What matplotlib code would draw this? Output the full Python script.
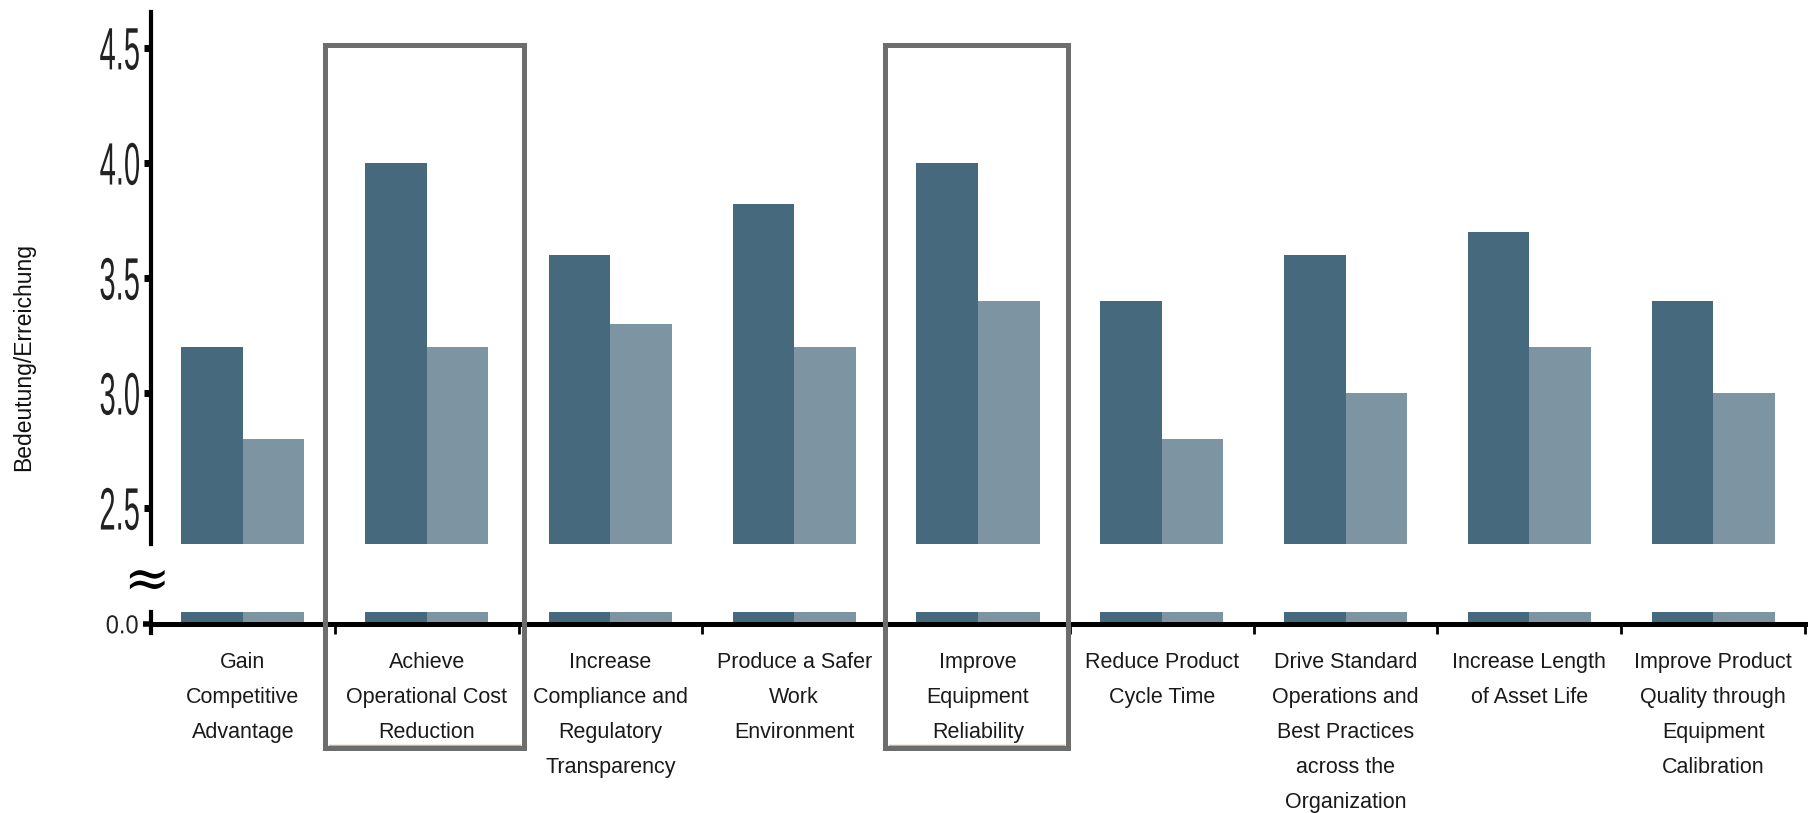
import matplotlib
matplotlib.use("Agg")
import matplotlib.pyplot as plt
import numpy as np
from matplotlib import patheffects
from matplotlib.transforms import Affine2D, blended_transform_factory
from matplotlib.patches import Rectangle
from matplotlib.lines import Line2D

# ---------------- data ----------------
categories = [
    "Gain\nCompetitive\nAdvantage",
    "Achieve\nOperational Cost\nReduction",
    "Increase\nCompliance and\nRegulatory\nTransparency",
    "Produce a Safer\nWork\nEnvironment",
    "Improve\nEquipment\nReliability",
    "Reduce Product\nCycle Time",
    "Drive Standard\nOperations and\nBest Practices\nacross the\nOrganization",
    "Increase Length\nof Asset Life",
    "Improve Product\nQuality through\nEquipment\nCalibration",
]
bedeutung = [3.2, 4.0, 3.6, 3.82, 4.0, 3.4, 3.6, 3.7, 3.4]
erreichung = [2.8, 3.2, 3.3, 3.2, 3.4, 2.8, 3.0, 3.2, 3.0]
upper_ticks = [2.5, 3.0, 3.5, 4.0, 4.5]
upper_ticklabels = ["2.5", "3.0", "3.5", "4.0", "4.5"]
lower_ticks = [0.0]
lower_ticklabels = ["0.0"]
highlighted = [1, 4]
ylabel = "Bedeutung/Erreichung"

DARK = "#46697d"
LIGHT = "#7d94a2"
W, H = 1814, 813


class VStretch(patheffects.AbstractPathEffect):
    """Stretch text vertically around its own center (condensed look)."""
    def __init__(self, sy=1.0):
        super().__init__()
        self.sy = sy

    def draw_path(self, renderer, gc, tpath, affine, rgbFace=None):
        pts = affine.transform(tpath.vertices)
        if len(pts):
            cy = 0.5 * (pts[:, 1].min() + pts[:, 1].max())
        else:
            cy = 0
        aff = affine + Affine2D().translate(0, -cy).scale(1, self.sy).translate(0, cy)
        renderer.draw_path(gc, tpath, aff, rgbFace)


fig = plt.figure(figsize=(W / 100, H / 100), dpi=100)

def px_axes(left, top, right, bottom):
    return fig.add_axes([left / W, 1 - bottom / H, (right - left) / W, (bottom - top) / H])

x_left, x_right = 151, 1805
ax_top = px_axes(x_left, 12, x_right, 544)
ax_bot = px_axes(x_left, 612, x_right, 624)

x = np.arange(len(categories))
bw = 0.335
for ax in (ax_top, ax_bot):
    ax.bar(x - bw / 2, bedeutung, width=bw, color=DARK, linewidth=0)
    ax.bar(x + bw / 2, erreichung, width=bw, color=LIGHT, linewidth=0)
    ax.set_xlim(-0.5, len(categories) - 0.5)
    ax.set_facecolor("none")
    for s in ("top", "right"):
        ax.spines[s].set_visible(False)
    ax.spines["left"].set_linewidth(3.0)
    ax.spines["left"].set_color("black")

# upper axes (2.34 .. 4.66)
ppu = 230.0
ax_top.set_ylim(2.5 - 36 / ppu, 4.5 + 36 / ppu)
ax_top.spines["bottom"].set_visible(False)
ax_top.set_xticks([])
ax_top.set_yticks(upper_ticks)
ax_top.set_yticklabels(upper_ticklabels)
ax_top.tick_params(axis="y", direction="out", length=5, width=5, pad=3)
for lab in ax_top.get_yticklabels():
    lab.set_fontfamily(["Liberation Sans Narrow", "Liberation Sans", "DejaVu Sans"])
    lab.set_fontsize(21)
    lab.set_color("#222222")
    lab.set_path_effects([VStretch(2.05)])

# lower axes (0 .. ~0.05)
ax_bot.set_ylim(0, 12 / ppu)
ax_bot.spines["left"].set_bounds(-9 / ppu, 12 / ppu)
ax_bot.spines["bottom"].set_linewidth(3.6)
ax_bot.spines["bottom"].set_color("black")
ax_bot.set_yticks(lower_ticks)
ax_bot.set_yticklabels(lower_ticklabels)
ax_bot.tick_params(axis="y", direction="out", length=6, width=4, pad=3)
for lab in ax_bot.get_yticklabels():
    lab.set_fontfamily(["Liberation Sans Narrow", "Liberation Sans", "DejaVu Sans"])
    lab.set_fontsize(17)
    lab.set_color("#222222")
    lab.set_path_effects([VStretch(1.1)])

ax_bot.set_xticks(x)
ax_bot.set_xticklabels(categories, fontsize=15.5, family=["Liberation Sans", "DejaVu Sans"],
                       color="#1a1a1a", linespacing=1.86, va="top")
ax_bot.tick_params(axis="x", length=0, pad=20.5)
ax_bot.set_xticks(np.arange(len(categories) + 1) - 0.5, minor=True)
ax_bot.tick_params(axis="x", which="minor", direction="out", length=7, width=2)

# axis break sign
fig.text(146 / W, 1 - 581 / H, "\u2248", fontsize=40, family="DejaVu Serif",
         ha="center", va="center", color="black")

# y label
fig.text(24 / W, 1 - 357 / H, ylabel, rotation=90, fontsize=16.5,
         family=["Liberation Sans", "DejaVu Sans"], ha="center", va="center", color="#111111")

# highlight boxes
trans = blended_transform_factory(ax_top.transData, fig.transFigure)
y0 = 1 - 748 / H
y1 = 1 - 45 / H
box_pad = [(-0.053, 0.029), (-0.007, -0.011)]
for idx, (pl, pr) in zip(highlighted, box_pad):
    xl = idx - 0.5 + pl
    xr = idx + 0.5 + pr
    fig.add_artist(Rectangle((xl, y0), xr - xl, y1 - y0, transform=trans,
                             fill=False, edgecolor="#6d6d6d", linewidth=3.6,
                             clip_on=False, zorder=10))
    fig.add_artist(Line2D([xl + 0.02, xr - 0.02], [y0 + 3.5 / H] * 2, transform=trans,
                          color="#e3a272", linewidth=1.0, zorder=9))

fig.savefig("out.png", dpi=100)
